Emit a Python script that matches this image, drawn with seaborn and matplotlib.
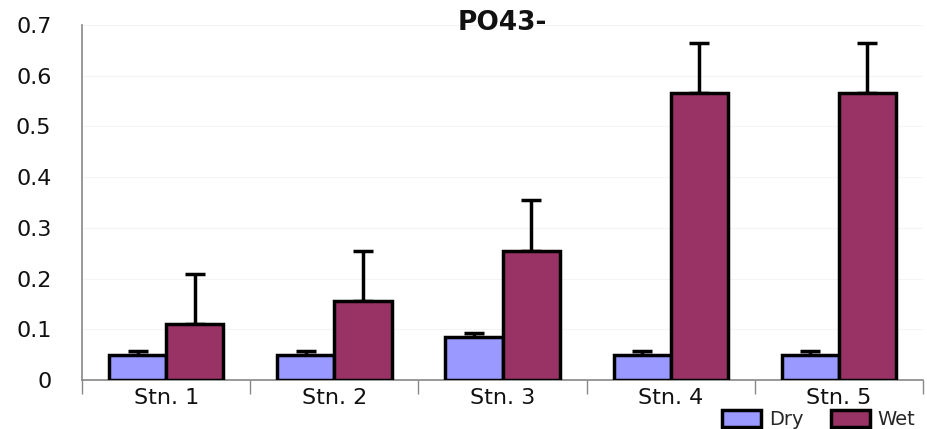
import seaborn as sns
from matplotlib import pyplot as plt
from matplotlib.ticker import FixedLocator
from matplotlib.patches import Patch
import pandas as pd

sns.set_style("white")
plt.rcParams["font.family"] = ["DejaVu Sans"]

stations = ["Stn. 1", "Stn. 2", "Stn. 3", "Stn. 4", "Stn. 5"]
dry = [0.05, 0.05, 0.085, 0.05, 0.05]
dry_err = [0.007, 0.007, 0.008, 0.007, 0.007]
wet = [0.11, 0.155, 0.255, 0.565, 0.565]
wet_err = [0.1, 0.1, 0.1, 0.1, 0.1]

df = pd.DataFrame({
    "station": stations * 2,
    "value": dry + wet,
    "err": dry_err + wet_err,
    "season": ["Dry"] * 5 + ["Wet"] * 5,
})
colors = {"Dry": "#9999FF", "Wet": "#993366"}

fig = plt.figure(figsize=(9.28, 4.29), dpi=100)
ax = fig.add_axes([0.0884, 0.1142, 0.9062, 0.8275])

sns.barplot(data=df, x="station", y="value", hue="season", palette=colors,
            saturation=1, width=0.68, gap=0, edgecolor="black", linewidth=2.5,
            errorbar=None, ax=ax, legend=False, zorder=3)

# upward error bars with caps
for cont, season in zip(ax.containers, ["Dry", "Wet"]):
    sub = df[df["season"] == season]
    xs = [p.get_x() + p.get_width() / 2 for p in cont.patches]
    ax.errorbar(xs, sub["value"], yerr=[[0] * len(sub), sub["err"]],
                fmt="none", ecolor="black", elinewidth=2.5, capsize=7,
                capthick=2.5, zorder=2)

ax.set_ylim(0, 0.7)
ax.set_xlim(-0.5, 4.5)
ax.set_yticks([0, 0.1, 0.2, 0.3, 0.4, 0.5, 0.6, 0.7])
ax.set_yticklabels(["0", "0.1", "0.2", "0.3", "0.4", "0.5", "0.6", "0.7"])
ax.xaxis.set_minor_locator(FixedLocator([-0.5, 0.5, 1.5, 2.5, 3.5, 4.5]))
ax.tick_params(axis="y", which="major", length=16, width=1, color="#888888",
               labelsize=16, pad=6, labelcolor="#111111")
ax.tick_params(axis="x", which="major", length=0, labelsize=16, pad=6,
               labelcolor="#111111")
ax.tick_params(axis="x", which="minor", length=10, width=1, color="#888888",
               bottom=True)
ax.set_xlabel("")
ax.set_ylabel("")
ax.grid(axis="y", color="#f4f4f4", linewidth=0.8, zorder=0)

for side in ["top", "right"]:
    ax.spines[side].set_visible(False)
for side in ["left", "bottom"]:
    ax.spines[side].set_color("#888888")
    ax.spines[side].set_linewidth(1.2)

ax.set_title("PO43-", fontsize=19, fontweight="bold", pad=0, y=0.985,
             color="#111111")

handles = [Patch(facecolor=colors[s], edgecolor="black", linewidth=2.5, label=s)
           for s in ["Dry", "Wet"]]
fig.legend(handles=handles, loc="upper left", bbox_to_anchor=(0.768, 0.068),
           ncol=2, frameon=False, fontsize=14, handlelength=2.0,
           handleheight=1.0, handletextpad=0.4, columnspacing=1.4,
           borderpad=0)

fig.savefig("out.png", dpi=100)
